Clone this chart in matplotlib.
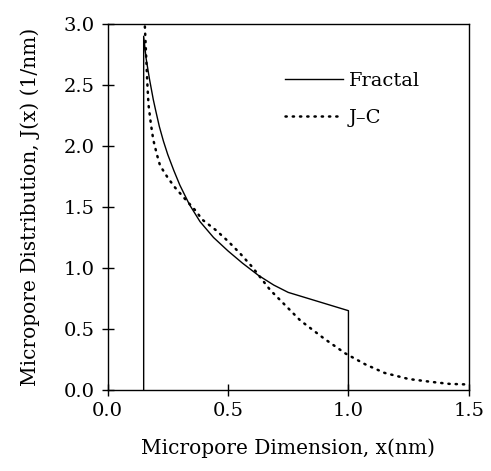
import matplotlib
matplotlib.use("Agg")
import matplotlib.pyplot as plt

plt.rcParams['font.family'] = ['DejaVu Serif']

# Fractal distribution (solid)
fractal_x = [0.15, 0.15, 0.16, 0.174, 0.19, 0.2, 0.215, 0.232, 0.25, 0.275, 0.3, 0.34, 0.384, 0.44, 0.5, 0.56, 0.626, 0.69, 0.75, 0.8, 0.9, 1.0, 1.0]
fractal_y = [0.0, 2.90, 2.72, 2.55, 2.38, 2.29, 2.16, 2.04, 1.93, 1.80, 1.68, 1.52, 1.38, 1.25, 1.14, 1.04, 0.94, 0.86, 0.80, 0.77, 0.71, 0.65, 0.0]

# J-C distribution (dotted)
jc_x = [0.155, 0.16, 0.165, 0.17, 0.18, 0.19, 0.205, 0.218, 0.25, 0.28, 0.32, 0.37, 0.391, 0.45, 0.5, 0.55, 0.6, 0.675, 0.74, 0.8, 0.9, 0.987, 1.07, 1.15, 1.25, 1.35, 1.42, 1.5]
jc_y = [2.98, 2.75, 2.52, 2.34, 2.18, 2.05, 1.93, 1.84, 1.74, 1.66, 1.57, 1.46, 1.40, 1.31, 1.22, 1.12, 1.01, 0.82, 0.69, 0.57, 0.42, 0.30, 0.21, 0.14, 0.09, 0.065, 0.05, 0.045]

x_ticks = [0.0, 0.5, 1.0, 1.5]
y_ticks = [0.0, 0.5, 1.0, 1.5, 2.0, 2.5, 3.0]

fig = plt.figure(figsize=(4.91, 4.71), dpi=100)
ax = fig.add_axes([0.219, 0.172, 0.736, 0.777])

ax.plot(fractal_x, fractal_y, color='black', lw=1.0, label='Fractal')
ax.plot(jc_x, jc_y, color='black', lw=1.8, linestyle=(0, (0.5, 2.4)),
        dash_capstyle='round', label='J\u2013C')

ax.set_xlim(0, 1.5)
ax.set_ylim(0, 3.0)
ax.set_xticks(x_ticks)
ax.set_yticks(y_ticks)
ax.set_xticklabels([f"{v:.1f}" for v in x_ticks])
ax.set_yticklabels([f"{v:.1f}" for v in y_ticks])
ax.tick_params(direction='inout', length=9, width=1.0, labelsize=14)
ax.tick_params(axis='y', pad=5)
ax.tick_params(axis='x', pad=4)
ax.tick_params(top=False, right=False)
for s in ax.spines.values():
    s.set_linewidth(1.0)

ax.set_xlabel('Micropore Dimension, x(nm)', fontsize=14.5, labelpad=13)
ax.set_ylabel('Micropore Distribution, J(x) (1/nm)', fontsize=14.5, labelpad=17)

leg = ax.legend(loc='upper left', bbox_to_anchor=(0.49, 0.87), frameon=False,
                fontsize=14, handlelength=3.0, handletextpad=0.3, labelspacing=1.0,
                borderaxespad=0.0, borderpad=0.0)

fig.savefig('out.png', dpi=100)
